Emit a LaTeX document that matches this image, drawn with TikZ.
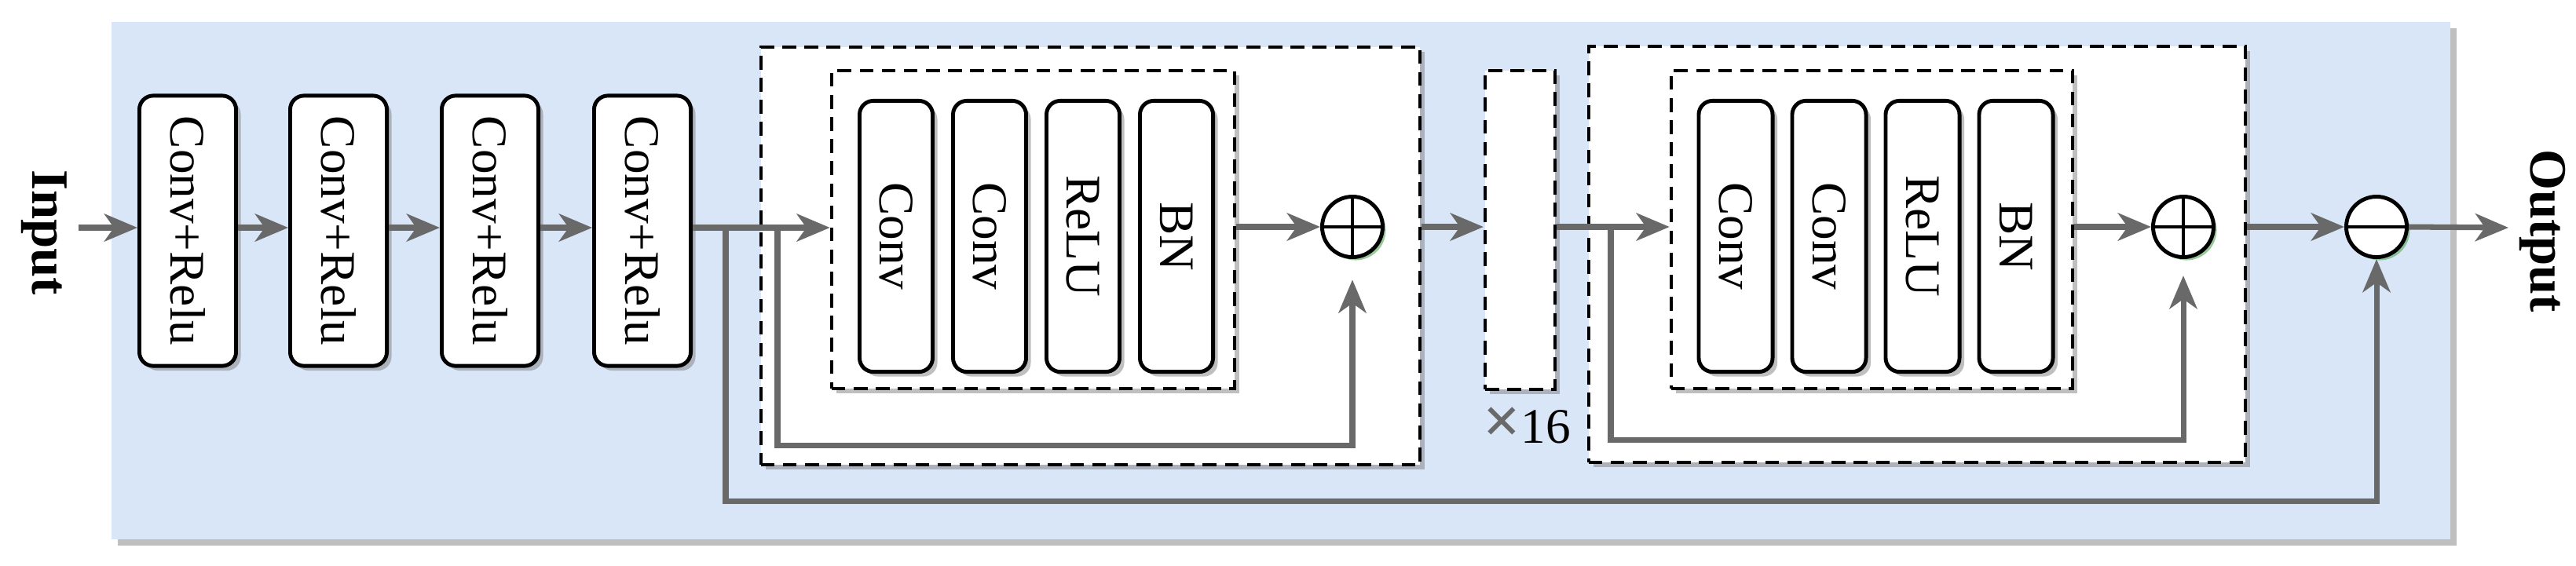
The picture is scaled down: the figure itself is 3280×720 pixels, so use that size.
\documentclass[tikz,border=0pt]{standalone}
\usepackage{fontspec}
\setmainfont{Liberation Serif}
\usetikzlibrary{shadows,arrows.meta,calc}
\definecolor{bgblue}{HTML}{D8E6F8}
\definecolor{ar}{HTML}{696969}
\begin{document}
\begin{tikzpicture}[x=0.01cm,y=-0.01cm,
  txt/.style={font=\fontsize{18}{20}\selectfont},
  blk/.style={draw=black,line width=1.4pt,rounded corners=5pt,fill=white,minimum height=3.45cm,
     drop shadow={shadow xshift=0.06cm,shadow yshift=-0.06cm,fill=black!50,opacity=.5},
     txt,inner sep=0pt},
  dbox/.style={draw=black,dashed,line width=1.2pt,dash pattern=on 5pt off 3pt,fill=white,
     drop shadow={shadow xshift=0.06cm,shadow yshift=-0.06cm,fill=black!50,opacity=.5},inner sep=0pt},
  op/.style={circle,draw=black,line width=1.4pt,fill=white,minimum size=0.77cm,inner sep=0pt,
     drop shadow={shadow xshift=0.04cm,shadow yshift=-0.04cm,fill=green!30!gray,opacity=.6}},
  con/.style={draw=ar,line width=2pt,-{Stealth[length=12pt,width=10pt,inset=3.5pt]}},
  lin/.style={draw=ar,line width=2pt}]
\useasboundingbox (0,0) rectangle (3280,720);
\fill[black!25] (150,36) rectangle (3128,695);
\fill[bgblue] (142,28) rectangle (3120,687);
% labels
\node[font=\fontsize{19}{22}\selectfont\bfseries,rotate=-90] (inp) at (56,296) {Input};
\node[font=\fontsize{19}{22}\selectfont\bfseries,rotate=-90] (outp) at (3237,294) {Output};
\coordinate (in) at (100,290);
\coordinate (out) at (3194,290);
% conv+relu
\foreach \i/\x in {1/239,2/431,3/624,4/818}
  \node[blk,minimum width=1.23cm,minimum height=3.44cm] (c\i) at (\x,294) {\rotatebox{-90}{Conv+Relu}};
% residual block 1
\node[dbox,minimum width=8.39cm,minimum height=5.32cm] (o1) at (1388.5,326) {};
\node[dbox,minimum width=5.13cm,minimum height=4.05cm] (i1) at (1315.5,292.5) {};
\node[blk,minimum width=0.93cm] (a1) at (1141,301) {\rotatebox{-90}{Conv}};
\node[blk,minimum width=0.93cm] (a2) at (1260,301) {\rotatebox{-90}{Conv}};
\node[blk,minimum width=0.93cm] (a3) at (1379,301) {\rotatebox{-90}{ReLU}};
\node[blk,minimum width=0.93cm] (a4) at (1498,301) {\rotatebox{-90}{BN}};
\node[op] (p1) at (1722,289) {};
\draw[line width=1.4pt] (p1.north)--(p1.south) (p1.west)--(p1.east);
% repeat box
\node[dbox,minimum width=0.89cm,minimum height=4.06cm] (rep) at (1935.5,293) {};
\node[txt,anchor=north] (x16) at (1944,506) {{\color{ar}\fontsize{24}{24}\selectfont\bfseries ×}16};
% residual block 2
\node[dbox,minimum width=8.36cm,minimum height=5.30cm] (o2) at (2441,324) {};
\node[dbox,minimum width=5.11cm,minimum height=4.05cm] (i2) at (2383.5,292.5) {};
\node[blk,minimum width=0.94cm] (d1) at (2210,301) {\rotatebox{-90}{Conv}};
\node[blk,minimum width=0.94cm] (d2) at (2329,301) {\rotatebox{-90}{Conv}};
\node[blk,minimum width=0.94cm] (d3) at (2448,301) {\rotatebox{-90}{ReLU}};
\node[blk,minimum width=0.94cm] (d4) at (2567,301) {\rotatebox{-90}{BN}};
\node[op] (p2) at (2780,289) {};
\draw[line width=1.4pt] (p2.north)--(p2.south) (p2.west)--(p2.east);
\node[op] (m) at (3026,289) {};
\draw[line width=1.4pt] (m.west)--(m.east);
% connectors
\draw[con] (in) -- (c1.west |- in);
\draw[con] (c1.east |- in) -- (c2.west |- in);
\draw[con] (c2.east |- in) -- (c3.west |- in);
\draw[con] (c3.east |- in) -- (c4.west |- in);
\draw[con] (c4.east |- in) -- (i1.west |- in);
\coordinate (b0) at (924,290);
\coordinate (b1) at (990,290);
\coordinate (s0) at (924,638);
\coordinate (s1) at (990,567);
\draw[con] (b0) -- (s0) -| (m.south);
\draw[con,shorten >=7.5pt] (b1) -- (s1) -| (p1.south);
\draw[con] (i1.east |- p1) -- (p1.west);
\draw[con] (o1.east |- p1) -- (rep.west |- p1);
\draw[con] (rep.east |- p1) -- (i2.west |- p1);
\coordinate (b2) at (2051,290);
\coordinate (s2) at (2051,560);
\draw[con,shorten >=6pt] (b2) -- (s2) -| (p2.south);
\draw[con] (i2.east |- p2) -- (p2.west);
\draw[con] (o2.east |- m) -- (m.west);
\draw[con] (m.east) -- (out);
\end{tikzpicture}
\end{document}
